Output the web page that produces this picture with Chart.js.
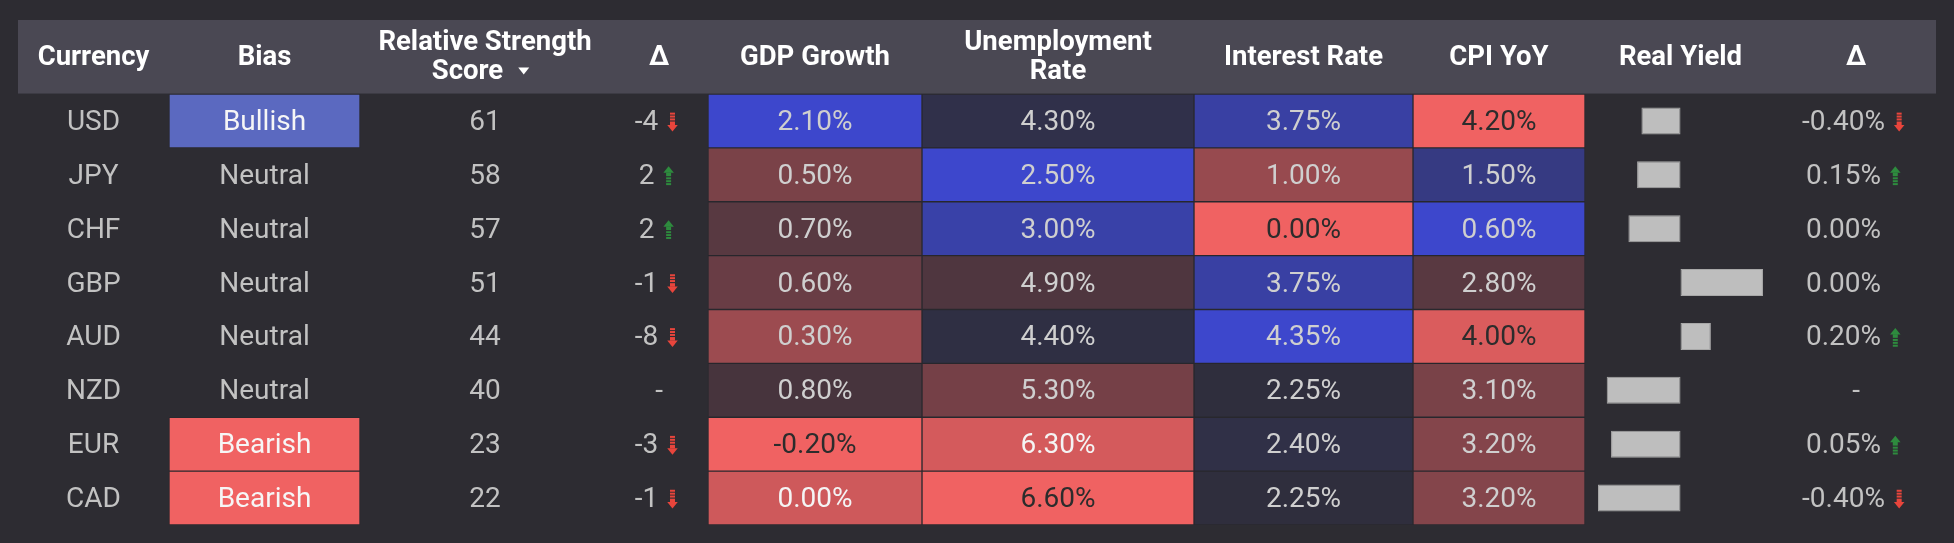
<!DOCTYPE html>
<html><head><meta charset="utf-8">
<script src="https://cdn.jsdelivr.net/npm/chart.js@4.4.1/dist/chart.umd.min.js"></script>
<style>html,body{margin:0;padding:0;background:#2d2c32;}#wrap{position:relative;width:1954px;height:543px;}</style>
</head><body><div id="wrap"><canvas id="c"></canvas></div>
<script>
// ---------- data ----------
const currencies = ['USD','JPY','CHF','GBP','AUD','NZD','EUR','CAD'];
const bias = ['Bullish','Neutral','Neutral','Neutral','Neutral','Neutral','Bearish','Bearish'];
const strengthScore = [61,58,57,51,44,40,23,22];
const scoreChange = [-4,2,2,-1,-8,null,-3,-1];
const gdpGrowth = [2.10,0.50,0.70,0.60,0.30,0.80,-0.20,0.00];
const unemploymentRate = [4.30,2.50,3.00,4.90,4.40,5.30,6.30,6.60];
const interestRate = [3.75,1.00,0.00,3.75,4.35,2.25,2.40,2.25];
const cpiYoY = [4.20,1.50,0.60,2.80,4.00,3.10,3.20,3.20];
const realYield = [-0.45,-0.50,-0.60,0.95,0.35,-0.85,-0.80,-0.95];
const realYieldChange = [-0.40,0.15,0.00,0.00,0.20,null,0.05,-0.40];
const headers = [['Currency'],['Bias'],['Relative Strength','Score'],['Δ'],['GDP Growth'],['Unemployment','Rate'],['Interest Rate'],['CPI YoY'],['Real Yield'],['Δ']];

// ---------- layout / style ----------
const colWidths = [151,191,250,98,214,272,219,172,191,160];
const edges = [0]; colWidths.forEach(w => edges.push(edges[edges.length-1] + w));
const TOTAL = edges[edges.length-1];
const HEADER_TOP = 20;
const realYieldRange = [-1.1, 1.1];
const BG = '#2d2c32', HEADER_BG = '#4a4853';
const BLUE = [61,71,204], RED = [240,98,98], MID = [46,45,56];
const TEXT = '#c2c2c2';
const FONT_BODY = '28px Roboto', FONT_HEAD = 'bold 27.5px Roboto';
const BODY_DY = 2, HEAD_DY = 1, HEAD_LINE = 14.5;

function mix(a,b,f){ return 'rgb(' + a.map((v,i)=>Math.round(v+(b[i]-v)*f)).join(',') + ')'; }
function heat(v, arr, higherBetter){
  const mn = Math.min(...arr), mx = Math.max(...arr);
  const m = (mn+mx)/2, h = (mx-mn)/2;
  let t = (v-m)/h; if(!higherBetter) t = -t;
  const f = Math.min(1, Math.abs(t)), good = t > 0;
  let txt = '#cfcfcf';
  if(!good && f > 0.87) txt = '#2c2c2c'; else if(!good && f > 0.7) txt = '#f4f4f4';
  return {bg: mix(MID, good ? BLUE : RED, f), txt};
}
const heatCols = [
  {col:4, arr:gdpGrowth, hb:true},
  {col:5, arr:unemploymentRate, hb:false},
  {col:6, arr:interestRate, hb:true},
  {col:7, arr:cpiYoY, hb:false}
];
heatCols.forEach(h => h.cells = h.arr.map(v => heat(v, h.arr, h.hb)));
const biasColor = {Bullish:'#5b69c0', Bearish:'#f06262', Neutral:'rgba(0,0,0,0)'};

// x2 scale so that realYieldRange fills the Real Yield column
const ryL = edges[8], ryR = edges[9];
const ryPer = (ryR-ryL)/(realYieldRange[1]-realYieldRange[0]);
const x2min = realYieldRange[0] - ryL/ryPer, x2max = realYieldRange[1] + (TOTAL-ryR)/ryPer;

const datasets = [];
datasets.push({
  label:'Bias', xAxisID:'x', grouped:false, barPercentage:1, categoryPercentage:1,
  data: bias.map(b => b === 'Neutral' ? null : [edges[1], edges[2]]),
  backgroundColor: bias.map(b => biasColor[b]),
  borderColor:'rgba(0,0,0,0.08)', borderWidth:1, borderSkipped:false
});
heatCols.forEach(h => datasets.push({
  label: headers[h.col].join(' '), xAxisID:'x', grouped:false, barPercentage:1, categoryPercentage:1,
  data: h.arr.map(() => [edges[h.col], edges[h.col+1]]),
  backgroundColor: h.cells.map(c => c.bg),
  borderColor:'rgba(0,0,0,0.08)', borderWidth:1, borderSkipped:false
}));
datasets.push({
  label:'Real Yield', xAxisID:'x2', grouped:false, barPercentage:0.5, categoryPercentage:1,
  data: realYield, backgroundColor:'#bebebe', borderColor:'#a8a8a8', borderWidth:1, borderSkipped:false
});

function drawArrow(ctx, x, y, up, color){
  ctx.save(); ctx.fillStyle = color;
  const w = 10.5, sw = 5, cx = x + w/2;
  if(up){
    ctx.beginPath(); ctx.moveTo(cx, y-9.5); ctx.lineTo(x+w, y-3); ctx.lineTo(x, y-3); ctx.closePath(); ctx.fill();
    ctx.fillRect(cx-sw/2, y-3.2, sw, 3.6);
    for(let k=0;k<3;k++) ctx.fillRect(cx-sw/2, y+1.5+k*2.9, sw, 2);
  } else {
    ctx.beginPath(); ctx.moveTo(cx, y+9.5); ctx.lineTo(x+w, y+3); ctx.lineTo(x, y+3); ctx.closePath(); ctx.fill();
    ctx.fillRect(cx-sw/2, y-0.4, sw, 3.6);
    for(let k=0;k<3;k++) ctx.fillRect(cx-sw/2, y-3.5-k*2.9, sw, 2);
  }
  ctx.restore();
}
function drawDelta(ctx, cx, y, v, txt){
  ctx.font = FONT_BODY; ctx.fillStyle = TEXT; ctx.textBaseline = 'middle';
  if(v === null){ ctx.textAlign = 'center'; ctx.fillText('-', cx, y + BODY_DY); return; }
  const tw = ctx.measureText(txt).width;
  const gw = tw + 9 + 16;
  const left = cx - gw/2;
  ctx.textAlign = 'left'; ctx.fillText(txt, left, y + BODY_DY);
  if(v !== 0) drawArrow(ctx, left + tw + 9, y + 1, v > 0, v > 0 ? '#2e8b3e' : '#e8453c');
}

const tablePlugin = {
  id:'table',
  beforeDatasetsDraw(chart){
    const ctx = chart.ctx, xs = chart.scales.x, area = chart.chartArea;
    const l = xs.getPixelForValue(0), r = xs.getPixelForValue(TOTAL);
    ctx.save();
    ctx.fillStyle = HEADER_BG; ctx.fillRect(l, HEADER_TOP, r-l, area.top-HEADER_TOP);
    ctx.fillStyle = 'rgba(0,0,0,0.18)'; ctx.fillRect(l, area.top-1, r-l, 1);
    ctx.restore();
  },
  afterDatasetsDraw(chart){
    const ctx = chart.ctx, xs = chart.scales.x, ys = chart.scales.y, area = chart.chartArea;
    const cx = c => xs.getPixelForValue((edges[c]+edges[c+1])/2);
    ctx.save();
    // headers
    const hy = (HEADER_TOP + area.top)/2 + HEAD_DY;
    ctx.font = FONT_HEAD; ctx.fillStyle = '#ffffff'; ctx.textBaseline = 'middle'; ctx.textAlign = 'center';
    headers.forEach((lines, c) => {
      if(lines.length === 1){ ctx.fillText(lines[0], cx(c), hy); }
      else {
        ctx.fillText(lines[0], cx(c), hy-HEAD_LINE);
        if(c === 2){
          const tw = ctx.measureText(lines[1]).width;
          const tx = cx(c) - 17.5;
          ctx.fillText(lines[1], tx, hy+HEAD_LINE);
          const tl = tx + tw/2 + 15, ty = hy + HEAD_LINE - 1.5;
          ctx.beginPath(); ctx.moveTo(tl, ty-3.5); ctx.lineTo(tl+11, ty-3.5); ctx.lineTo(tl+5.5, ty+3.5); ctx.closePath(); ctx.fill();
        } else ctx.fillText(lines[1], cx(c), hy+HEAD_LINE);
      }
    });
    // body
    currencies.forEach((cur, i) => {
      const y = ys.getPixelForValue(i);
      const ty = y + BODY_DY;
      ctx.font = FONT_BODY; ctx.textAlign = 'center'; ctx.textBaseline = 'middle';
      ctx.fillStyle = TEXT; ctx.fillText(cur, cx(0), ty);
      ctx.fillStyle = bias[i] === 'Neutral' ? TEXT : '#f6f6f6'; ctx.fillText(bias[i], cx(1), ty);
      ctx.fillStyle = TEXT; ctx.fillText(String(strengthScore[i]), cx(2), ty);
      drawDelta(ctx, cx(3), y, scoreChange[i], scoreChange[i] === null ? '-' : String(scoreChange[i]));
      heatCols.forEach(h => {
        ctx.font = FONT_BODY; ctx.textAlign = 'center'; ctx.textBaseline = 'middle';
        ctx.fillStyle = h.cells[i].txt; ctx.fillText(h.arr[i].toFixed(2) + '%', cx(h.col), ty);
      });
      const d = realYieldChange[i];
      drawDelta(ctx, cx(9), y, d, d === null ? '-' : d.toFixed(2) + '%');
    });
    ctx.restore();
  }
};

function build(){
  new Chart(document.getElementById('c'), {
    type:'bar',
    data:{ labels: currencies, datasets },
    options:{
      indexAxis:'y', responsive:true, maintainAspectRatio:false, animation:false,
      layout:{ padding:{ top:94, left:18, right:18, bottom:18 } },
      plugins:{ legend:{display:false}, tooltip:{enabled:false} },
      scales:{
        x:{ type:'linear', min:0, max:TOTAL, display:false },
        x2:{ type:'linear', min:x2min, max:x2max, display:false },
        y:{ type:'category', display:false, offset:true }
      }
    },
    plugins:[tablePlugin]
  });
}
if(document.fonts && document.fonts.load){
  Promise.all([document.fonts.load(FONT_BODY), document.fonts.load(FONT_HEAD)]).then(build, build);
} else build();
</script>
</body></html>
